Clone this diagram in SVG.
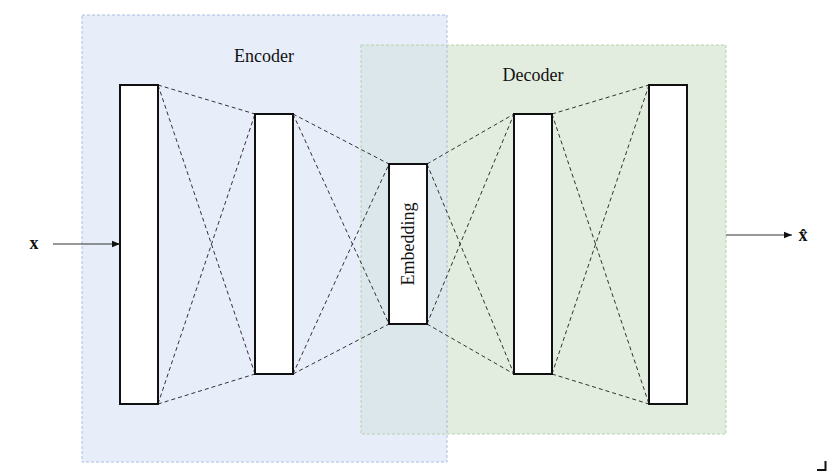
<svg xmlns="http://www.w3.org/2000/svg" width="827" height="471" viewBox="0 0 827 471">
  <style>
    .label { font-family: "Liberation Serif", "Times New Roman", serif; font-size: 18px; fill: #111; }
    .var { font-family: "Liberation Serif", "Times New Roman", serif; font-size: 18px; font-weight: bold; fill: #111; }
    .layer { fill: #ffffff; stroke: #111; stroke-width: 2; }
    .link { stroke: #333; stroke-width: 1; stroke-dasharray: 4 3; fill: none; }
    .io { stroke: #333; stroke-width: 1.2; fill: none; marker-end: url(#arrow); }
  </style>
  <defs>
    <marker id="arrow" viewBox="0 0 10 10" refX="10" refY="5" markerWidth="8" markerHeight="8" markerUnits="userSpaceOnUse" orient="auto">
      <path d="M0,1 L10,5 L0,9 z" fill="#111"/>
    </marker>
  </defs>

  <!-- encoder / decoder regions -->
  <g id="regions">
    <rect x="82" y="15" width="365" height="447" fill="#e7eefa"/>
    <rect x="361" y="45" width="365" height="389" fill="#e2ecdf"/>
    <rect x="361" y="45" width="86" height="389" fill="#dbe7eb"/>
    <rect x="361" y="45" width="365" height="389" fill="none" stroke="#b6d3a8" stroke-width="1" stroke-dasharray="3 2"/>
    <rect x="82" y="15" width="365" height="447" fill="none" stroke="#a9bfe0" stroke-width="1" stroke-dasharray="3 2"/>
    <text class="label" x="264" y="62" text-anchor="middle">Encoder</text>
    <text class="label" x="533" y="81" text-anchor="middle">Decoder</text>
  </g>

  <!-- connectors between layers -->
  <g id="connectors">
    <line class="link" x1="158" y1="85" x2="255" y2="114"/>
    <line class="link" x1="158" y1="85" x2="255" y2="374"/>
    <line class="link" x1="158" y1="404" x2="255" y2="114"/>
    <line class="link" x1="158" y1="404" x2="255" y2="374"/>

    <line class="link" x1="293" y1="114" x2="389" y2="164"/>
    <line class="link" x1="293" y1="114" x2="389" y2="324"/>
    <line class="link" x1="293" y1="374" x2="389" y2="164"/>
    <line class="link" x1="293" y1="374" x2="389" y2="324"/>

    <line class="link" x1="427" y1="164" x2="514" y2="114"/>
    <line class="link" x1="427" y1="164" x2="514" y2="374"/>
    <line class="link" x1="427" y1="324" x2="514" y2="114"/>
    <line class="link" x1="427" y1="324" x2="514" y2="374"/>

    <line class="link" x1="552" y1="114" x2="649" y2="85"/>
    <line class="link" x1="552" y1="114" x2="649" y2="404"/>
    <line class="link" x1="552" y1="374" x2="649" y2="85"/>
    <line class="link" x1="552" y1="374" x2="649" y2="404"/>

    <line class="io" x1="53" y1="244" x2="120" y2="244"/>
    <line class="io" x1="726" y1="235" x2="792" y2="235"/>
  </g>

  <!-- layers -->
  <g id="input-layer"><rect class="layer" x="120" y="85" width="38" height="319"/></g>
  <g id="hidden-enc"><rect class="layer" x="255" y="114" width="38" height="260"/></g>
  <g id="embedding">
    <rect class="layer" x="389" y="164" width="38" height="160"/>
    <text class="label" x="0" y="0" text-anchor="middle" transform="translate(414,244) rotate(-90)">Embedding</text>
  </g>
  <g id="hidden-dec"><rect class="layer" x="514" y="114" width="38" height="260"/></g>
  <g id="output-layer"><rect class="layer" x="649" y="85" width="38" height="319"/></g>

  <g id="input-label"><text class="var" x="34" y="249" text-anchor="middle">x</text></g>
  <g id="output-label"><text class="var" x="803" y="241" text-anchor="middle">x̂</text></g>

  <!-- corner mark -->
  <path d="M825.5,461 V470 H817" fill="none" stroke="#111" stroke-width="2"/>
</svg>
